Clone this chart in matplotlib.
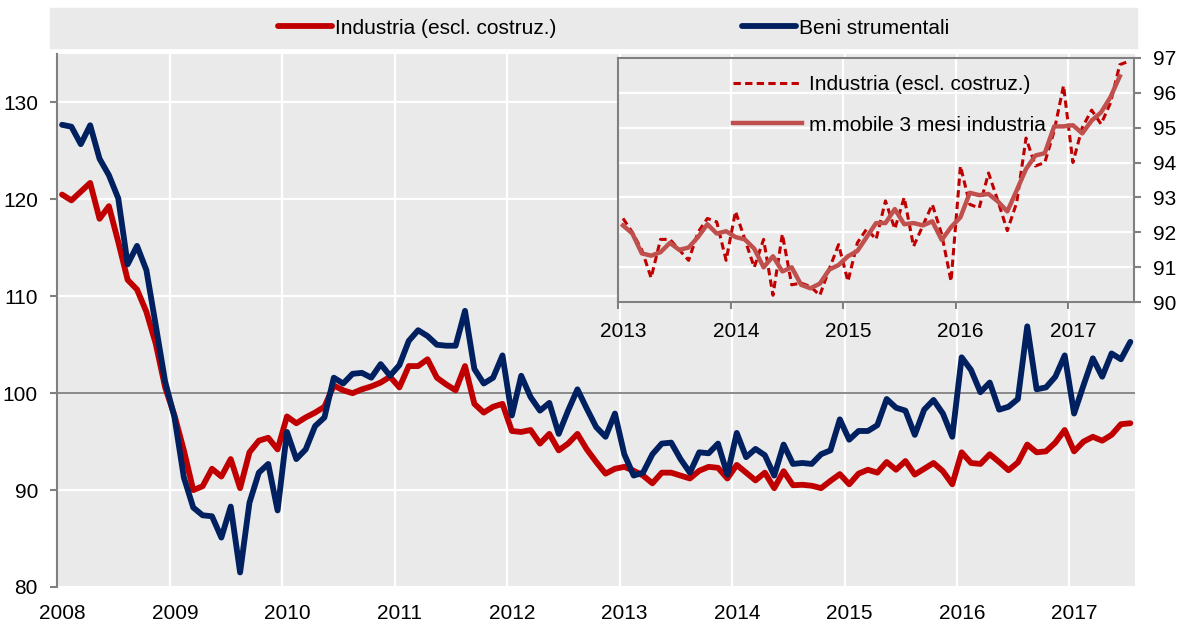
import matplotlib.pyplot as plt
import matplotlib.transforms as mtransforms
from matplotlib.patches import Rectangle
import numpy as np
import pandas as pd

plt.rcParams['font.family'] = ['Liberation Sans Narrow', 'DejaVu Sans Condensed',
                               'Liberation Sans', 'DejaVu Sans']
plt.rcParams['font.stretch'] = 'condensed'

# Dati mensili, gen 2008 - lug 2017 (indice 2010 = 100)
industria = [
    120.5, 119.9, 120.8, 121.7, 118.0, 119.3, 115.6, 111.7, 110.7, 108.4, 105.1, 100.6,  # 2008
    97.7, 94.1, 90.0, 90.4, 92.2, 91.4, 93.2, 90.2, 93.9, 95.1, 95.4, 94.2,               # 2009
    97.6, 96.9, 97.5, 98.0, 98.6, 100.8, 100.3, 100.0, 100.4, 100.7, 101.1, 101.7,        # 2010
    100.6, 102.8, 102.8, 103.5, 101.6, 100.9, 100.3, 102.8, 98.9, 98.0, 98.6, 98.9,       # 2011
    96.1, 96.0, 96.2, 94.8, 95.8, 94.1, 94.8, 95.8, 94.2, 92.9, 91.7, 92.2,               # 2012
    92.4, 92.0, 91.5, 90.7, 91.8, 91.8, 91.5, 91.2, 92.0, 92.4, 92.3, 91.2,               # 2013
    92.6, 91.8, 91.0, 91.8, 90.2, 91.95, 90.5, 90.55, 90.45, 90.2, 90.95, 91.65,          # 2014
    90.6, 91.7, 92.1, 91.8, 92.9, 92.1, 93.0, 91.6, 92.2, 92.8, 91.95, 90.6,              # 2015
    93.9, 92.8, 92.7, 93.7, 92.9, 92.05, 92.85, 94.7, 93.9, 94.0, 94.9, 96.2,             # 2016
    94.0, 95.0, 95.5, 95.1, 95.7, 96.8, 96.9,                                             # 2017
]
beni_strumentali = [
    127.7, 127.5, 125.7, 127.65, 124.2, 122.5, 120.1, 113.3, 115.2, 112.7, 107.0, 101.2,  # 2008
    97.5, 91.3, 88.2, 87.4, 87.3, 85.1, 88.3, 81.5, 88.7, 91.8, 92.7, 87.9,               # 2009
    96.0, 93.2, 94.2, 96.6, 97.5, 101.6, 101.0, 102.0, 102.1, 101.6, 103.0, 101.8,        # 2010
    102.9, 105.4, 106.5, 105.9, 105.0, 104.9, 104.9, 108.5, 102.5, 101.0, 101.6, 103.9,   # 2011
    97.7, 101.8, 99.6, 98.2, 99.0, 95.8, 98.2, 100.4, 98.4, 96.5, 95.5, 97.9,             # 2012
    93.7, 91.5, 91.8, 93.7, 94.8, 94.9, 93.2, 91.8, 93.9, 93.8, 94.8, 91.6,               # 2013
    95.9, 93.4, 94.25, 93.6, 91.5, 94.7, 92.7, 92.8, 92.7, 93.7, 94.1, 97.3,              # 2014
    95.2, 96.1, 96.1, 96.7, 99.4, 98.5, 98.2, 95.7, 98.3, 99.3, 97.9, 95.5,               # 2015
    103.7, 102.4, 100.1, 101.1, 98.3, 98.6, 99.4, 106.9, 100.4, 100.6, 101.7, 103.9,      # 2016
    97.9, 100.8, 103.6, 101.7, 104.1, 103.5, 105.3,                                       # 2017
]
anni = list(range(2008, 2018))
anni_inset = list(range(2013, 2018))

ROSSO = '#C00000'
BLU = '#002060'
ROSSO_MM = '#C0504D'
SFONDO = '#EAEAEA'
GRIGIO = '#808080'

# posizione di ogni mese al centro del suo intervallo
mesi = 2008 + (np.arange(len(industria)) + 0.5) / 12
media_mobile = pd.Series(industria).rolling(3, center=True).mean().to_numpy()

fig = plt.figure(figsize=(11.78, 6.27), dpi=100)

# fascia grigia della legenda
fig.patches.append(Rectangle((50 / 1178, 1 - 47.5 / 627), 1087 / 1178, 39.5 / 627,
                             transform=fig.transFigure, color=SFONDO, zorder=0))

ax = fig.add_axes([0.0487, 0.0638, 0.9148, 0.850])
ax.set_facecolor(SFONDO)
ax.plot(mesi, industria, color=ROSSO, lw=4.2, solid_joinstyle='round',
        solid_capstyle='round', label='Industria (escl. costruz.)')
ax.plot(mesi, beni_strumentali, color=BLU, lw=4.2, solid_joinstyle='round',
        solid_capstyle='round', label='Beni strumentali')
ax.axhline(100, color=GRIGIO, lw=1.3, zorder=1.5)
ax.set_xlim(2008, 2017 + 7 / 12)
ax.set_ylim(80, 135)
ax.set_xticks(anni)
ax.set_yticks(range(80, 131, 10))
ax.grid(color='white', lw=1.6)
ax.set_axisbelow(True)
for s in ['top', 'right', 'bottom']:
    ax.spines[s].set_visible(False)
ax.spines['left'].set_color(GRIGIO)
ax.spines['left'].set_linewidth(1.5)
ax.tick_params(axis='y', length=5, width=1.5, color=GRIGIO, pad=9, labelsize=15)
ax.tick_params(axis='x', length=0, pad=12, labelsize=15)
sposta = mtransforms.ScaledTranslation(5 / 100, 0, fig.dpi_scale_trans)
for lab in ax.get_xticklabels():
    lab.set_transform(lab.get_transform() + sposta)

fig.legend(loc='center left', bbox_to_anchor=(278 / 1178, 0.955), ncol=2, frameon=False,
           borderpad=0, borderaxespad=0, handlelength=2.6, handletextpad=0.15,
           columnspacing=8.9, fontsize=15)

# riquadro 2013-2017
axi = fig.add_axes([0.5249, 0.5179, 0.4376, 0.3901])
axi.set_facecolor(SFONDO)
sel = mesi >= 2013
axi.plot(mesi[sel], np.array(industria)[sel], color=ROSSO, lw=2.2,
         ls=(0, (2.4, 1.4)), label='Industria (escl. costruz.)')
axi.plot(mesi[sel], media_mobile[sel], color=ROSSO_MM, lw=3.2,
         solid_joinstyle='round', label='m.mobile 3 mesi industria')
axi.set_xlim(2013, 2017 + 7 / 12)
axi.set_ylim(90, 97)
axi.set_xticks(anni_inset)
axi.set_yticks(range(90, 98))
axi.yaxis.tick_right()
axi.grid(color='white', lw=1.6)
axi.set_axisbelow(True)
for s in axi.spines.values():
    s.set_color(GRIGIO)
    s.set_linewidth(1.5)
axi.tick_params(length=5, width=1.5, color=GRIGIO, pad=9, labelsize=15)
for lab in axi.get_xticklabels():
    lab.set_transform(lab.get_transform() + sposta)
axi.legend(loc='upper left', bbox_to_anchor=(0.2225, 0.93), frameon=False,
           borderpad=0, borderaxespad=0, handlelength=3.3, handletextpad=0.33,
           labelspacing=1.05, fontsize=15)

fig.savefig('out.png', dpi=100)
